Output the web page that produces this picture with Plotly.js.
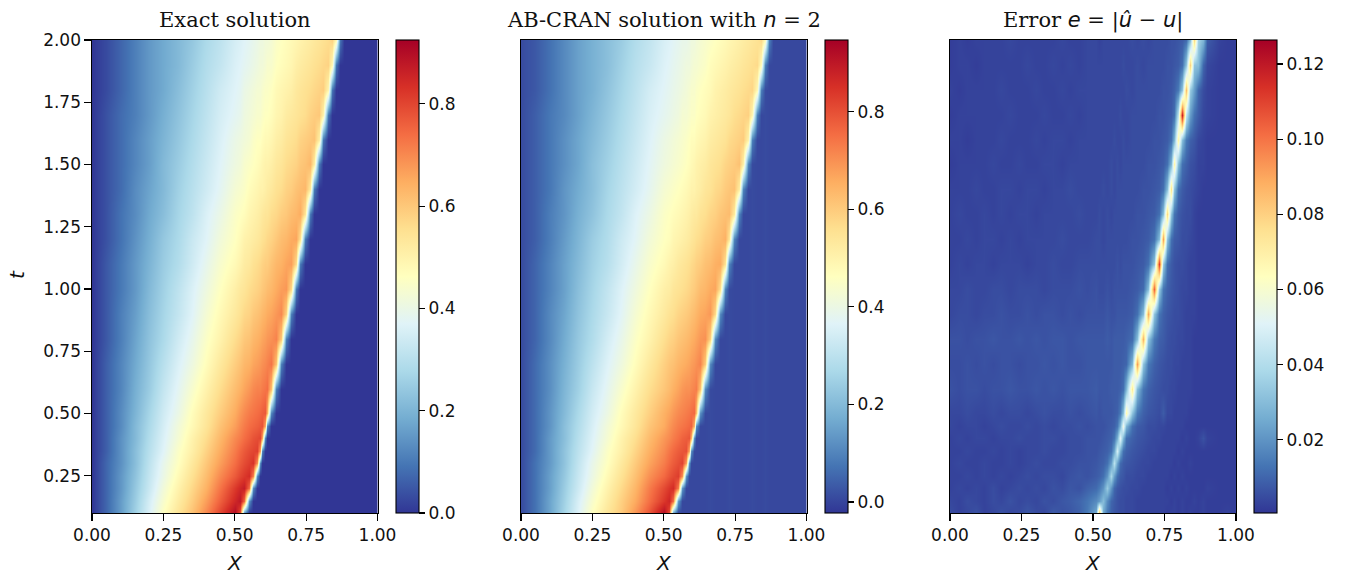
<!DOCTYPE html>
<html><head><meta charset="utf-8">
<script src="https://cdn.plot.ly/plotly-3.0.1.min.js"></script>
<style>html,body{margin:0;padding:0;background:#fff}#c{width:1354px;height:577px}</style>
</head><body><div id="c"></div>
<script>
// time rows shared by all panels
const T = [0.1,0.15,0.2,0.25,0.3,0.35,0.4,0.45,0.5,0.6,0.7,0.8,0.9,1.0,1.1,1.2,1.3,1.4,1.5,1.6,1.7,1.8,1.9,2.0];
// x columns for the two solution panels
const XU = [0,0.05,0.1,0.15,0.2,0.25,0.3,0.35,0.4,0.45,0.5,0.518,0.534,0.55,0.565,0.578,0.587,0.596,0.605,0.613,0.626,0.645,0.663,0.68,0.697,0.713,0.73,0.747,0.763,0.779,0.795,0.81,0.825,0.84,0.854,0.868,0.882,1];
// exact solution in hundredths, each row listed up to the front
const exactRows = [
[0,7,16,26,36,46,54,61,70,80,90,78,14],
[0,7,16,25,35,44,52,59,67,76,85,88,75,14],
[0,7,15,24,33,42,50,57,64,73,82,85,87,74,13],
[0,7,15,23,32,40,48,55,62,70,77,80,82,84,71,13],
[0,7,14,22,31,39,46,53,60,67,74,77,79,81,83,69,13],
[0,6,14,22,30,37,45,51,58,65,72,75,77,79,80,81,67,12],
[0,6,14,21,29,36,43,50,56,63,70,72,74,76,78,79,80,66,12],
[0,6,13,21,28,35,42,48,54,61,67,70,72,74,75,76,77,78,65,12],
[0,6,13,20,27,34,40,47,53,59,65,68,70,72,73,74,75,76,77,64,12],
[0,6,12,19,25,32,38,44,50,56,62,64,66,68,70,71,71,72,73,74,62,11],
[0,6,12,18,24,30,36,41,47,53,59,61,63,64,66,67,68,69,70,71,73,61,11],
[0,5,11,17,23,28,34,39,45,50,56,58,60,61,63,64,65,66,67,68,69,71,60,11],
[0,5,11,16,22,27,32,37,43,48,53,55,57,58,60,61,62,63,64,65,66,68,70,58,11],
[0,5,10,15,21,26,31,36,41,46,51,53,54,56,57,58,59,60,61,62,63,65,67,68,57,10],
[0,5,10,15,20,25,29,34,39,44,48,50,52,53,55,56,57,58,59,59,61,63,64,66,67,56,10],
[0,4,9,14,19,24,28,33,37,42,46,48,50,51,52,53,54,55,56,57,58,60,62,63,65,66,55,10],
[0,4,9,13,18,22,27,31,36,40,45,46,47,49,50,51,52,53,54,54,56,57,59,60,62,63,65,54,10],
[0,4,8,13,17,21,26,30,34,38,43,44,45,47,48,49,50,50,51,52,53,55,56,58,59,61,62,63,53,10],
[0,4,8,12,16,21,25,29,33,37,41,42,44,45,46,47,48,49,50,50,51,53,54,56,57,58,60,61,63,52,10],
[0,4,8,12,16,20,24,28,32,36,40,41,42,43,45,46,46,47,48,48,49,51,52,54,55,56,58,59,60,61,51,9],
[0,4,8,11,15,19,23,27,31,35,38,39,41,42,43,44,44,45,46,46,47,49,50,52,53,54,55,56,58,59,60,50,9],
[0,3,7,11,15,18,22,26,30,34,37,38,40,41,42,43,43,44,45,45,46,48,49,50,51,53,54,55,56,57,58,59,49,9],
[0,3,7,11,15,18,21,25,29,32,36,37,38,39,40,41,42,42,43,44,44,46,47,48,49,51,52,53,54,55,56,57,58,48,9],
[0,3,7,11,15,18,21,24,28,31,35,36,37,38,39,40,41,41,42,42,43,45,46,47,48,49,50,51,52,53,54,55,56,58,48,9]
];
// AB-CRAN solution in hundredths
const abRows = [
[1,7,16,26,36,46,54,60,69,79,92,80,15],
[1,7,16,25,35,44,52,59,66,75,84,87,75,14],
[1,7,15,24,33,42,50,57,64,73,81,84,86,73,13],
[1,7,15,23,32,40,48,55,62,70,76,79,81,83,70,13],
[1,7,14,22,31,39,46,53,60,67,73,76,78,80,82,68,13],
[1,6,14,22,30,37,45,51,58,65,71,74,76,78,79,80,66,12],
[1,6,14,21,29,36,43,50,56,63,69,71,73,75,77,78,79,65,12],
[1,6,13,21,28,35,42,48,54,61,66,69,71,73,74,75,76,77,64,12],
[1,6,13,20,27,34,40,47,53,59,65,67,69,71,72,73,74,75,76,63,12],
[1,6,12,19,25,32,38,44,50,56,61,63,65,67,69,70,70,71,72,73,62,11],
[1,6,12,18,24,30,36,41,47,53,59,61,62,64,65,66,67,68,69,70,72,60,11],
[1,5,11,17,23,28,34,39,45,50,56,58,59,61,62,63,64,65,66,67,69,70,59,11],
[1,5,11,16,22,27,32,37,43,48,53,55,56,58,59,60,61,62,63,64,66,67,69,57,11],
[1,5,10,15,21,26,31,36,41,46,51,52,54,55,56,57,58,59,60,61,63,64,66,67,56,10],
[1,5,10,15,20,25,29,34,39,44,48,50,51,53,54,55,56,57,58,59,60,62,63,65,66,55,10],
[1,4,9,14,19,24,28,33,37,42,46,47,49,50,51,52,53,54,55,56,57,59,60,62,63,65,54,10],
[1,4,9,13,18,22,27,31,36,40,45,46,47,48,49,50,51,52,53,53,55,56,58,59,61,62,63,53,10],
[1,4,8,13,17,21,26,30,34,38,43,44,45,46,47,48,49,50,50,51,52,54,55,57,58,60,61,62,52,10],
[1,4,8,12,16,21,25,29,33,37,41,42,43,44,45,46,47,48,49,50,51,52,54,55,56,58,59,60,62,51,10],
[1,4,8,12,16,20,24,28,32,36,40,41,42,43,44,45,46,47,47,48,49,50,52,53,54,55,57,58,59,60,50,9],
[1,4,8,11,15,19,23,27,31,35,38,39,40,41,43,43,44,45,45,46,47,48,50,51,52,53,54,56,57,58,59,49,9],
[1,3,7,11,15,18,22,26,30,34,37,38,39,40,41,42,43,44,44,45,46,47,48,50,51,52,53,54,55,56,57,58,48,9],
[1,3,7,11,15,18,21,25,29,32,36,37,38,39,40,41,41,42,43,43,44,45,47,48,49,50,51,52,53,54,55,56,57,47,9],
[1,3,7,11,15,18,21,24,28,31,35,36,37,38,39,39,40,41,41,42,43,44,45,46,47,48,49,50,51,52,53,54,55,57,47,9]
];
// level right of the front, per column, in hundredths
const exactRight = [0,0,0,0,0,0,0,0,0,0,0,0,0,0,0,0,0,0,0,0,0,0,0,0,0,0,0,0,0,0,0,0,0,0,0,0,0,0];
const abRight = [0.5,0.5,0.5,0.5,0.5,0.5,0.5,0.5,0.5,0.5,0.5,0.5,0.5,0.5,0.5,0.5,0.5,0.5,0.5,0.5,0.5,0.5,1,0.5,0.5,0.5,1,0.5,0.5,0.5,0.5,1,0.5,0.5,1,0.5,0.5,0.5];
// x columns for the error panel
const XE = [0,0.03,0.06,0.09,0.12,0.15,0.18,0.21,0.24,0.27,0.3,0.33,0.36,0.39,0.42,0.45,0.48,0.51,
0.52,0.535,0.55,0.562,0.575,0.585,0.595,0.605,0.615,0.635,0.655,0.675,0.694,0.713,0.73,0.745,0.758,0.771,0.783,0.797,0.81,0.826,0.84,0.853,
0.868,0.885,0.9,0.94,0.97,1];
// error in thousandths
const errRows = [
[5,3,4,6,3,4,6,4,5,7,5,4,8,6,7,9,14,25, 85,25,14,9,7,6,5,5,4,4,3,3,3,3,3,3,2,3,3,2,3,2,3,2, 2,3,2,2,3,2],
[4,3,5,4,3,5,4,6,4,5,4,6,5,7,8,10,13,18, 22,30,18,10,8,6,5,5,4,4,3,3,3,3,3,3,3,2,3,2,3,2,2,3, 2,3,2,2,2,2],
[3,4,3,4,3,5,3,4,5,4,5,4,6,5,7,6,9,11, 14,20,34,20,10,7,6,5,5,4,4,3,3,3,3,3,2,3,2,3,2,3,2,2, 2,2,3,2,2,2],
[3,3,4,3,4,3,4,3,4,5,4,5,5,4,6,7,6,8, 9,12,20,38,22,12,8,7,5,5,4,4,3,3,3,3,3,2,3,2,3,2,2,2, 2,2,2,2,2,2],
[3,4,3,3,4,3,3,4,3,4,5,4,4,5,5,6,6,7, 8,9,12,22,42,24,11,8,7,6,5,4,4,3,3,3,3,3,2,3,2,2,3,2, 2,2,2,2,2,2],
[3,3,4,3,3,4,3,4,3,4,4,5,4,4,5,5,6,6, 7,8,9,12,24,48,26,12,9,7,6,5,4,4,3,3,3,3,3,2,3,2,2,2, 2,2,2,2,2,2],
[3,4,3,4,4,3,4,4,5,4,4,5,5,4,5,5,6,6, 6,7,8,9,13,26,52,28,12,9,7,6,5,4,4,3,3,3,3,3,2,3,2,2, 3,6,3,2,2,2],
[4,3,4,4,3,4,5,4,4,5,4,5,4,5,5,6,5,6, 6,6,7,8,9,13,28,56,28,12,8,7,5,5,4,4,3,3,3,3,3,2,2,2, 2,2,2,2,2,2],
[4,4,5,4,4,5,4,5,5,4,5,6,5,5,6,5,6,7, 6,7,7,7,8,9,14,30,66,32,14,9,7,6,5,8,4,4,3,3,3,3,2,2, 2,2,2,2,2,2],
[6,5,6,6,5,6,6,7,6,6,7,6,7,6,7,7,7,8, 7,7,7,8,8,8,9,12,28,72,30,13,9,7,6,5,5,4,4,3,3,3,3,2, 2,2,2,2,2,2],
[5,5,6,5,6,5,6,6,5,6,6,7,6,7,6,6,7,7, 7,7,7,7,8,8,8,9,10,28,92,32,14,9,7,6,5,5,4,4,3,3,3,2, 2,2,2,2,2,2],
[6,6,5,6,6,7,6,6,7,6,7,6,7,7,6,7,7,7, 7,7,8,7,8,8,8,8,9,11,30,88,32,14,9,8,6,5,5,4,4,3,3,2, 2,2,2,2,2,2],
[4,5,5,4,5,5,6,5,5,6,5,6,6,5,6,5,6,6, 6,6,7,6,6,7,7,7,7,8,12,30,90,32,13,9,7,6,5,5,4,3,3,3, 2,2,2,2,2,2],
[4,4,5,4,4,5,5,4,5,5,5,4,5,5,5,6,5,6, 5,5,6,5,6,6,6,6,6,7,8,11,30,104,34,13,9,7,6,5,4,4,3,3, 2,2,2,2,2,2],
[3,4,3,4,4,3,4,4,4,3,4,4,5,4,4,5,5,5, 5,5,5,5,5,6,5,6,6,6,7,8,12,32,112,34,12,8,6,5,5,4,3,3, 2,2,2,2,2,2],
[3,3,4,3,4,4,3,4,3,4,4,4,4,5,4,4,4,5, 5,4,5,5,5,5,5,5,5,6,6,7,8,12,30,92,32,12,8,7,5,5,4,3, 2,2,2,2,2,2],
[3,4,3,3,4,3,4,3,4,4,3,4,4,4,4,5,4,4, 5,4,5,4,5,5,5,5,5,5,6,6,7,8,12,30,78,32,13,8,6,5,5,3, 2,2,2,2,2,2],
[3,3,3,4,3,3,4,4,3,4,4,3,4,4,5,4,4,4, 4,5,4,5,4,5,5,5,5,5,5,6,6,7,8,12,30,74,32,12,8,6,5,4, 3,2,2,2,2,2],
[2,3,3,3,3,4,3,3,4,3,3,4,4,3,4,4,4,4, 4,4,4,5,4,5,4,5,5,5,5,5,6,6,7,8,12,28,68,30,12,9,6,5, 3,3,2,2,2,2],
[3,3,2,3,3,3,4,3,3,3,4,3,4,4,3,4,4,4, 4,4,4,4,5,4,4,5,4,5,5,5,5,6,6,7,8,12,28,68,30,14,9,7, 4,3,2,2,2,2],
[2,3,3,3,3,3,3,4,3,3,3,4,3,3,4,3,4,4, 4,4,4,4,4,4,5,4,4,5,5,5,5,5,6,6,7,8,12,42,118,44,22,12, 8,4,3,2,2,2],
[3,2,3,3,3,3,4,3,3,3,4,3,3,4,3,4,4,4, 4,4,4,4,4,4,4,4,5,4,5,5,5,5,5,6,6,7,9,14,32,85,34,22, 10,5,3,2,2,2],
[2,3,3,2,3,3,3,3,3,4,3,3,4,3,4,3,4,4, 4,4,4,4,4,4,4,5,4,4,5,4,5,5,5,5,6,6,7,8,12,32,80,32, 30,10,4,2,2,2],
[2,3,2,3,3,3,3,4,3,3,3,3,3,4,3,3,4,4, 3,4,4,4,4,4,4,4,4,5,4,5,4,5,5,5,5,6,6,7,8,11,30,78, 36,28,8,3,2,2]
];
const xTicks = [0,0.25,0.5,0.75,1];
const tTicks = [0.25,0.5,0.75,1,1.25,1.5,1.75,2];
const cbTicksU = [0,0.2,0.4,0.6,0.8];
const cbTicksAB = [0,0.2,0.4,0.6,0.8];
const cbTicksE = [0.02,0.04,0.06,0.08,0.1,0.12];

const W = 1354, H = 577;
const RdYlBuR = ['#313695','#4575b4','#74add1','#abd9e9','#e0f3f8','#ffffbf','#fee090','#fdae61','#f46d43','#d73027','#a50026']
  .map((c,i)=>[i/10,c]);
const pad = (rows,right)=>rows.map(r=>r.concat(right.slice(r.length)).map(v=>v/100));
const tickFont = {family:'DejaVu Sans',size:17,color:'#111'};
const plotTop = 40, plotBot = 513;
const yDom = [1-plotBot/H, 1-plotTop/H];
function cb(left,vals,fmt){return {x:left/W,xanchor:'left',xref:'paper',y:yDom[0],yanchor:'bottom',yref:'paper',
  len:(plotBot-plotTop)/H,lenmode:'fraction',thickness:23,thicknessmode:'pixels',xpad:0,ypad:0,
  outlinewidth:1.1,outlinecolor:'#000',bgcolor:'rgba(0,0,0,0)',borderwidth:0,
  ticks:'outside',ticklen:6,tickwidth:1.1,tickcolor:'#000',tickmode:'array',tickvals:vals,
  ticktext:vals.map(v=>v.toFixed(fmt)),tickfont:tickFont};}
const data = [
 {type:'heatmap',x:XU,y:T,z:pad(exactRows,exactRight),xaxis:'x',yaxis:'y',zsmooth:'best',colorscale:RdYlBuR,zmin:0,zmax:0.925,colorbar:cb(396,cbTicksU,1),hoverinfo:'skip'},
 {type:'heatmap',x:XU,y:T,z:pad(abRows,abRight),xaxis:'x2',yaxis:'y2',zsmooth:'best',colorscale:RdYlBuR,zmin:-0.0225,zmax:0.947,colorbar:cb(825,cbTicksAB,1),hoverinfo:'skip'},
 {type:'heatmap',x:XE,y:T,z:errRows.map(r=>r.map(v=>v/1000)),xaxis:'x3',yaxis:'y3',zsmooth:'best',colorscale:RdYlBuR,zmin:0.0005,zmax:0.1264,colorbar:cb(1253.5,cbTicksE,2),hoverinfo:'skip'}
];
function xa(l,r,y){return {domain:[l/W,r/W],anchor:y,range:[0,1],tickmode:'array',tickvals:xTicks,ticktext:xTicks.map(v=>v.toFixed(2)),
  ticks:'outside',ticklen:6.5,tickwidth:1.1,tickcolor:'#000',showline:true,linecolor:'#000',linewidth:1.1,mirror:true,showgrid:false,zeroline:false,tickfont:tickFont};}
function ya(x,labels){return {domain:yDom,anchor:x,range:[0.1,2],tickmode:'array',tickvals:labels?tTicks:[],ticktext:labels?tTicks.map(v=>v.toFixed(2)):[],
  ticks:labels?'outside':'',ticklen:6.5,tickwidth:1.1,tickcolor:'#000',showline:true,linecolor:'#000',linewidth:1.1,mirror:true,showgrid:false,zeroline:false,tickfont:tickFont};}
const serif = {family:'DejaVu Serif',size:21,color:'#111'};
const ital = {family:'DejaVu Sans',size:20,color:'#111'};
const ann = (t,px,py,font,extra)=>Object.assign({text:t,x:px/W,y:1-py/H,xref:'paper',yref:'paper',xanchor:'center',yanchor:'middle',showarrow:false,font:font},extra||{});
const m = s=>'<span style="font-family:DejaVu Sans;font-style:italic">'+s+'</span>';
const layout = {width:W,height:H,paper_bgcolor:'#fff',plot_bgcolor:'#fff',showlegend:false,
 margin:{l:0,r:0,t:0,b:0,autoexpand:false},
 xaxis:xa(92,377.5,'y'),yaxis:ya('x',true),
 xaxis2:xa(521,806.5,'y2'),yaxis2:ya('x2',false),
 xaxis3:xa(950,1236,'y3'),yaxis3:ya('x3',false),
 annotations:[
  ann('Exact solution',234.5,20,serif),
  ann('AB-CRAN solution with '+m('n')+' = 2',664,20,serif),
  ann('Error '+m('e')+' = |'+m('û')+' − '+m('u')+'|',1093,20,serif),
  ann('<i>X</i>',234.5,563,ital),ann('<i>X</i>',663.5,563,ital),ann('<i>X</i>',1092.5,563,ital),
  ann('<i>t</i>',17,275,ital,{textangle:-90})
 ]};
Plotly.newPlot('c',data,layout,{displayModeBar:false,staticPlot:true});
</script></body></html>
